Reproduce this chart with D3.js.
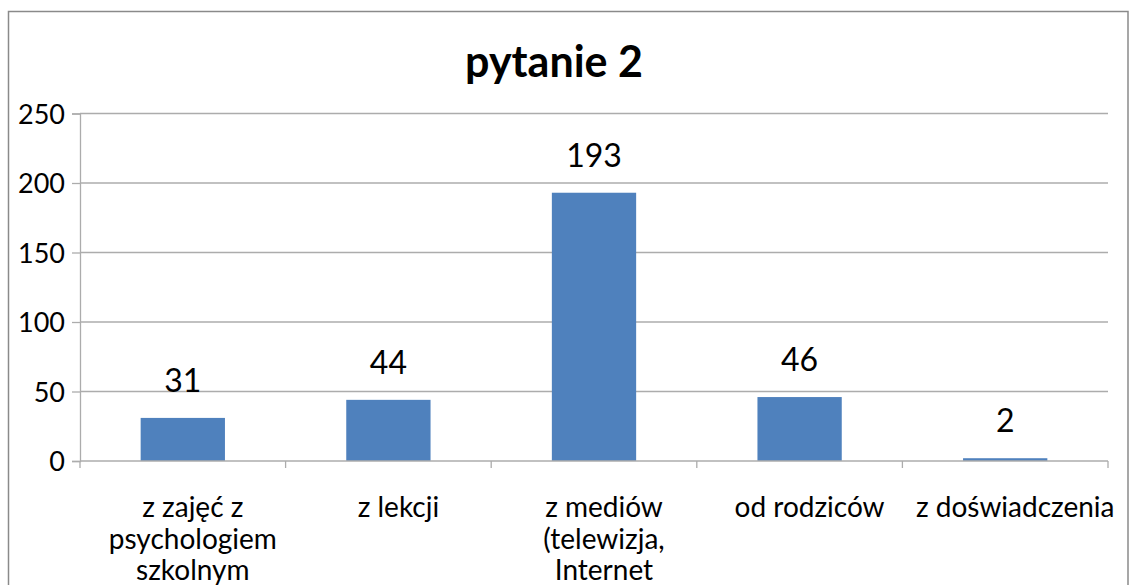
<!DOCTYPE html>
<html>
<head>
<meta charset="utf-8">
<script src="https://cdn.jsdelivr.net/npm/d3@7"></script>
<style>
  body { margin: 0; background: #fff; }
  svg { display: block; font-family: Lato, "Open Sans", sans-serif; }
</style>
</head>
<body>
<svg id="chart" width="1129" height="585"></svg>
<script>
'use strict';

var title = 'pytanie 2';
var categories = [
    'z zajęć z\npsychologiem\nszkolnym',
    'z lekcji',
    'z mediów\n(telewizja,\nInternet',
    'od rodziców',
    'z doświadczenia'
];
var values = [31, 44, 193, 46, 2];
var yTicks = [0, 50, 100, 150, 200, 250];

var plot = { left: 80, right: 1108, top: 113.5, bottom: 461 };

var svg = d3.select('#chart');

// outer frame
svg.append('rect')
    .attr('x', 8.5)
    .attr('y', 11.5)
    .attr('width', 1119.5)
    .attr('height', 700)
    .attr('fill', 'none')
    .attr('stroke', '#8a8a8a')
    .attr('stroke-width', 1.5);

svg.append('text')
    .attr('x', 554)
    .attr('y', 77)
    .attr('text-anchor', 'middle')
    .style('font-size', '43px')
    .style('font-weight', 'bold')
    .text(title);

var x = d3.scaleBand()
    .domain(d3.range(categories.length))
    .range([plot.left, plot.right])
    .paddingInner(0.59)
    .paddingOuter(0.295);

var xCat = d3.scaleBand()
    .domain(d3.range(categories.length))
    .range([plot.left, plot.right]);

var y = d3.scaleLinear()
    .domain([0, 250])
    .range([plot.bottom, plot.top]);

// grid
svg.append('g')
    .selectAll('line')
    .data(yTicks.filter(function(d) { return d > 0; }))
    .enter()
    .append('line')
    .attr('x1', plot.left)
    .attr('x2', plot.right)
    .attr('y1', function(d) { return y(d); })
    .attr('y2', function(d) { return y(d); })
    .attr('stroke', '#acacac')
    .attr('stroke-width', 1.3);

// y axis
var axisY = d3.axisLeft(y)
    .tickValues(yTicks)
    .tickSize(8)
    .tickPadding(7);

var gy = svg.append('g')
    .attr('transform', 'translate(' + plot.left + ',0)')
    .call(axisY);
gy.select('.domain').attr('stroke', '#acacac').attr('stroke-width', 1.3);
gy.selectAll('.tick line').attr('stroke', '#acacac').attr('stroke-width', 1.3);
gy.selectAll('.tick text')
    .attr('fill', '#000')
    .style('font-size', '27px')
    .style('font-family', 'Lato, sans-serif')
    .attr('dy', '0.36em');

// bars
svg.append('g')
    .selectAll('rect')
    .data(values)
    .enter()
    .append('rect')
    .attr('x', function(d, i) { return x(i); })
    .attr('width', x.bandwidth())
    .attr('y', function(d) { return y(d); })
    .attr('height', function(d) { return y(0) - y(d); })
    .attr('fill', '#4f81bd');

// x axis
svg.append('line')
    .attr('x1', plot.left)
    .attr('x2', plot.right)
    .attr('y1', plot.bottom)
    .attr('y2', plot.bottom)
    .attr('stroke', '#acacac')
    .attr('stroke-width', 1.3);

svg.append('g')
    .selectAll('line')
    .data(d3.range(categories.length + 1))
    .enter()
    .append('line')
    .attr('x1', function(i) { return plot.left + i * xCat.bandwidth(); })
    .attr('x2', function(i) { return plot.left + i * xCat.bandwidth(); })
    .attr('y1', plot.bottom)
    .attr('y2', plot.bottom + 7)
    .attr('stroke', '#acacac')
    .attr('stroke-width', 1.3);

// value labels
svg.append('g')
    .selectAll('text')
    .data(values)
    .enter()
    .append('text')
    .attr('x', function(d, i) { return xCat(i) + xCat.bandwidth() / 2; })
    .attr('y', function(d) { return y(d) - 26; })
    .attr('text-anchor', 'middle')
    .style('font-size', '32px')
    .text(function(d) { return d; });

// category labels (sit a little right of the band centre, like the original)
var cat = svg.append('g')
    .selectAll('text')
    .data(categories)
    .enter()
    .append('text')
    .attr('text-anchor', 'middle')
    .style('font-size', '28px');

cat.each(function(d, i) {
    var cx = xCat(i) + xCat.bandwidth() / 2 + 10;
    d3.select(this).selectAll('tspan')
        .data(d.split('\n'))
        .enter()
        .append('tspan')
        .attr('x', cx)
        .attr('y', function(l, j) { return 517 + j * 31.5; })
        .text(function(l) { return l; });
});
</script>
</body>
</html>
